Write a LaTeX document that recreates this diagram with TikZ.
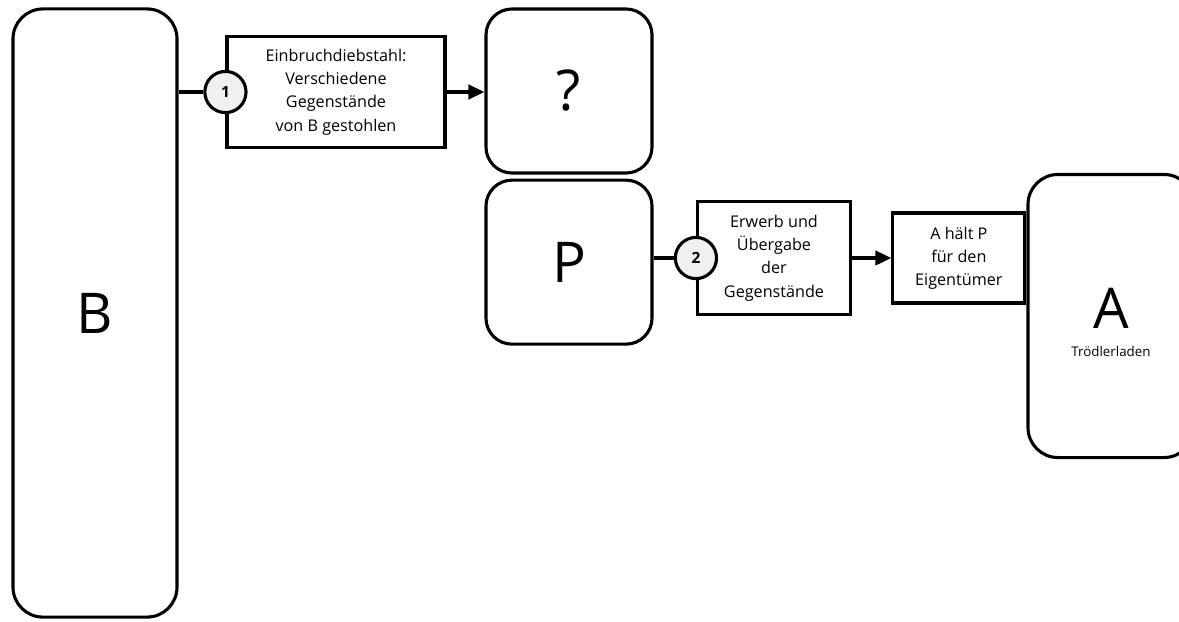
\documentclass[tikz,border=0pt]{standalone}
\usepackage{fontspec}
\setmainfont{Open Sans}
\usepackage{tikz}
\usetikzlibrary{positioning}
\usetikzlibrary{arrows.meta}
\usetikzlibrary{calc}

\begin{document}
\begin{tikzpicture}[x=0.025cm,y=-0.025cm]
\tikzset{party/.style={rectangle, draw, line width=2.2pt, rounded corners=0.65cm, minimum width=4.15cm, minimum height=4.1cm, font=\fontsize{40}{44}\selectfont}}
\tikzset{act/.style={rectangle, draw, line width=2.2pt, align=center, inner sep=2pt, font=\fontsize{11.5}{16.5}\selectfont}}
\tikzset{num/.style={circle, draw, fill=gray!12, line width=2.2pt, minimum size=1.03cm, inner sep=0pt, font=\bfseries\fontsize{11}{13}\selectfont}}
\tikzset{link/.style={line width=2.2pt}}
\tikzset{flow/.style={line width=2.2pt, -{Triangle[length=4mm,width=3.6mm]}}}
\useasboundingbox (0,0) rectangle (1179,621);
\node[party, minimum width=4.1cm, minimum height=15.2cm, rounded corners=0.75cm] (B) at (95,313) {B};
\node[act, minimum width=5.45cm, minimum height=2.775cm] (theft) at (336,92) {Einbruchdiebstahl:\\Verschiedene\\Gegenstände\\von B gestohlen};
\node[num] (n1) at (theft.west) {1};
\node[party] (q) at (569,91) {?};
\node[party, below=0.1cm of q] (P) {P};
\node[act, minimum width=3.825cm, minimum height=2.825cm] (handover) at (774,258) {Erwerb und\\Übergabe\\der\\Gegenstände};
\node[num] (n2) at (handover.west) {2};
\node[party, minimum width=4.15cm, minimum height=7.075cm, rounded corners=0.75cm] (A) at (1111,316) {};
\node[act, anchor=east, minimum width=3.3cm, minimum height=2.25cm] (hold) at (A.west |- handover) {A hält P\\für den\\Eigentümer};
\node[font=\fontsize{40}{44}\selectfont] (Aname) at (1111,308) {A};
\node[below=0.2cm of Aname, font=\fontsize{9.5}{11}\selectfont] (Ashop) {Trödlerladen};
% connectors
\draw[link] (n1) -- (n1 -| B.east);
\draw[flow] (theft.east) -- (theft.east -| q.west);
\draw[link] (P.east |- n2) -- (n2);
\draw[flow] (handover.east) -- (hold.west);
\end{tikzpicture}
\end{document}
